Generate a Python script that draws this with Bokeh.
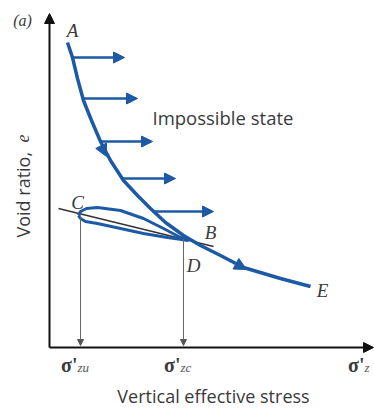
import math
from bokeh.plotting import figure
from bokeh.models import Range1d, Label, Arrow, NormalHead
from bokeh.embed import file_html
from bokeh.resources import INLINE

# ---- data (schematic units) ----
ncl_stress = [18, 23, 28, 34, 42, 51, 61, 74, 88, 101, 116, 134, 151, 171, 194, 231, 261]
ncl_void = [305, 290, 269, 247, 227, 206, 187, 167, 152, 139, 125, 112, 102, 92, 80, 69, 61]

unload_stress = [139, 131, 114, 94, 71, 48, 37, 31, 29]
unload_void = [107, 110, 119, 129, 137, 140, 139, 136, 132]
reload_stress = [29, 31, 36, 48, 71, 94, 118, 139]
reload_void = [132, 129, 126, 124, 119, 114, 110, 107]

recomp_stress = [9, 164]
recomp_void = [139, 101]

# horizontal "impossible state" arrows: start stress, end stress, void ratio
imp_start = [23, 33, 51, 73, 103]
imp_end = [75, 88, 103, 126, 164]
imp_void = [290, 249, 206, 169, 136]

# direction arrows on the curve: (start, end)
dir_x0 = [52, 186]
dir_y0 = [201, 84]
dir_x1 = [57, 197]
dir_y1 = [191, 78]

# sigma'_zu, sigma'_zc, sigma'_z positions
tick_pos = [31, 134, 318]
tick_sub = ["zu", "zc", "z"]
drop_top = [132, 109]

letters = ["A", "B", "C", "D", "E"]
letter_x = [23, 161, 28, 144, 273]
letter_y = [317, 115, 145, 82, 57]

BLUE = "#1c5aa5"
GREY_TXT = "#3a3a3a"

p = figure(width=374, height=408, output_backend="svg", toolbar_location=None,
           x_range=Range1d(-49, 325), y_range=Range1d(-61, 347),
           min_border_left=0, min_border_right=0, min_border_top=0, min_border_bottom=0)
p.xaxis.visible = False
p.yaxis.visible = False
p.grid.visible = False
p.outline_line_color = None
p.background_fill_color = "white"

# axes with arrow heads
p.add_layout(Arrow(end=NormalHead(size=10, fill_color="#111111", line_color="#111111"),
                   x_start=0, y_start=0, x_end=0, y_end=334,
                   line_width=2, line_color="#111111"))
p.add_layout(Arrow(end=NormalHead(size=10, fill_color="#111111", line_color="#111111"),
                   x_start=0, y_start=0, x_end=324, y_end=0,
                   line_width=2, line_color="#111111"))

# drop lines
for xs, yt in zip(tick_pos[:2], drop_top):
    p.add_layout(Arrow(end=NormalHead(size=6, fill_color="#555555", line_color="#555555"),
                       x_start=xs, y_start=yt, x_end=xs, y_end=2,
                       line_width=1, line_color="#666666"))

# recompression line
p.line(recomp_stress, recomp_void, line_color="#333333", line_width=1.5)

# loop
p.line(unload_stress, unload_void, line_color=BLUE, line_width=3)
p.line(reload_stress, reload_void, line_color=BLUE, line_width=3)

# normal consolidation line
p.line(ncl_stress, ncl_void, line_color=BLUE, line_width=3.5)

# impossible-state arrows
for xs, xe, yv in zip(imp_start, imp_end, imp_void):
    p.add_layout(Arrow(end=NormalHead(size=11, fill_color=BLUE, line_color=BLUE),
                       x_start=xs, y_start=yv, x_end=xe, y_end=yv,
                       line_width=2.5, line_color=BLUE))

for x0, y0, x1, y1 in zip(dir_x0, dir_y0, dir_x1, dir_y1):
    p.add_layout(Arrow(end=NormalHead(size=12, fill_color=BLUE, line_color=BLUE),
                       x_start=x0, y_start=y0, x_end=x1, y_end=y1,
                       line_width=3, line_color=BLUE))

# letters
for t, lx, ly in zip(letters, letter_x, letter_y):
    p.add_layout(Label(x=lx, y=ly, text=t, text_font="Liberation Serif", text_font_style="italic",
                       text_font_size="19px", text_color=GREY_TXT,
                       text_align="center", text_baseline="middle"))

p.add_layout(Label(x=-27, y=327, text="(a)", text_font="Liberation Serif", text_font_style="italic",
                   text_font_size="16px", text_color=GREY_TXT, text_align="center", text_baseline="middle"))

p.add_layout(Label(x=103, y=230, text="Impossible state", text_font="Open Sans",
                   text_font_size="18.5px", text_color=GREY_TXT, text_align="left", text_baseline="middle"))

p.add_layout(Label(x=164, y=-48, text="Vertical effective stress", text_font="Open Sans",
                   text_font_size="18px", text_color=GREY_TXT, text_align="center", text_baseline="middle"))

p.add_layout(Label(x=-27, y=110, text="Void ratio,", text_font="Open Sans", angle=math.pi / 2,
                   text_font_size="18px", text_color=GREY_TXT, text_align="left", text_baseline="middle"))
p.add_layout(Label(x=-27, y=205, text="e", text_font="Liberation Serif", text_font_style="italic",
                   angle=math.pi / 2,
                   text_font_size="18px", text_color=GREY_TXT, text_align="left", text_baseline="middle"))

# tick labels sigma'
for xp, sub in zip(tick_pos, tick_sub):
    p.add_layout(Label(x=xp - 3, y=-17, text="σ'", text_font="Liberation Serif", text_font_style="bold",
                       text_font_size="20px", text_color=GREY_TXT, text_align="right", text_baseline="middle"))
    p.add_layout(Label(x=xp - 3, y=-20, text=sub, text_font="Liberation Serif", text_font_style="italic",
                       text_font_size="13px", text_color="#555555", text_align="left", text_baseline="middle"))

open("out.html", "w").write(file_html(p, INLINE))
